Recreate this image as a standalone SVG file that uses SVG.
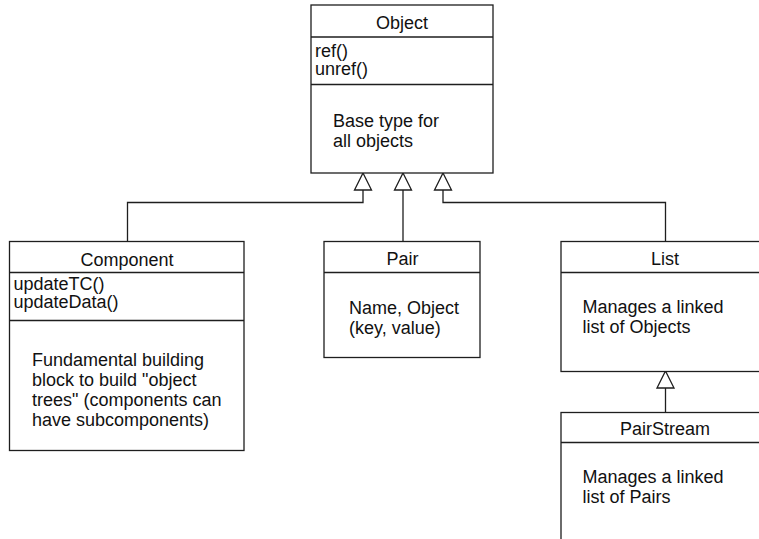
<svg xmlns="http://www.w3.org/2000/svg" width="759" height="539" viewBox="0 0 759 539">
  <style>
    .box { fill: #ffffff; stroke: #1e1e1e; stroke-width: 1.3; }
    .sep { stroke: #1e1e1e; stroke-width: 1.3; fill: none; }
    .edge { stroke: #1e1e1e; stroke-width: 1.3; fill: none; }
    .head { fill: #ffffff; stroke: #1e1e1e; stroke-width: 1.3; }
    text { font-family: "Liberation Sans", Arial, sans-serif; font-size: 18px; fill: #111111; }
    .title { text-anchor: middle; }
  </style>
  <defs>
    <!-- hollow generalization triangle, apex at the origin pointing up -->
    <polygon id="gen" points="0,0 8.5,17 -8.5,17"/>
  </defs>

  <rect width="759" height="539" fill="#ffffff"/>

  <!-- generalization connectors -->
  <g id="connectors">
    <polyline class="edge" points="127.5,241.5 127.5,202.5 363,202.5 363,190"/>
    <line class="edge" x1="403" y1="241.5" x2="403" y2="190"/>
    <polyline class="edge" points="665.5,241.5 665.5,202.5 443,202.5 443,190"/>
    <line class="edge" x1="665.5" y1="412" x2="665.5" y2="388"/>
    <use href="#gen" class="head" x="363" y="173"/>
    <use href="#gen" class="head" x="403" y="173"/>
    <use href="#gen" class="head" x="443" y="173"/>
    <use href="#gen" class="head" x="665.5" y="371"/>
  </g>

  <g id="Object">
    <rect class="box" x="311" y="5" width="182" height="168"/>
    <line class="sep" x1="311" y1="37" x2="493" y2="37"/>
    <line class="sep" x1="311" y1="84.5" x2="493" y2="84.5"/>
    <text class="title" x="402" y="29">Object</text>
    <text x="315" y="57">ref()</text>
    <text x="315" y="75">unref()</text>
    <text x="333" y="127">Base type for</text>
    <text x="333" y="147">all objects</text>
  </g>

  <g id="Component">
    <rect class="box" x="9.5" y="241.5" width="234.5" height="209"/>
    <line class="sep" x1="9.5" y1="272.5" x2="244" y2="272.5"/>
    <line class="sep" x1="9.5" y1="320.5" x2="244" y2="320.5"/>
    <text class="title" x="127" y="266">Component</text>
    <text x="13.5" y="290">updateTC()</text>
    <text x="13.5" y="308">updateData()</text>
    <text x="32" y="366">Fundamental building</text>
    <text x="32" y="386">block to build "object</text>
    <text x="32" y="406">trees" (components can</text>
    <text x="32" y="426">have subcomponents)</text>
  </g>

  <g id="Pair">
    <rect class="box" x="324" y="241.5" width="156" height="116"/>
    <line class="sep" x1="324" y1="272.5" x2="480" y2="272.5"/>
    <text class="title" x="402.5" y="265">Pair</text>
    <text x="349" y="314">Name, Object</text>
    <text x="349" y="334">(key, value)</text>
  </g>

  <g id="List">
    <rect class="box" x="561" y="241.5" width="209" height="130"/>
    <line class="sep" x1="561" y1="272.5" x2="770" y2="272.5"/>
    <text class="title" x="665" y="265">List</text>
    <text x="582.5" y="313">Manages a linked</text>
    <text x="582.5" y="333">list of Objects</text>
  </g>

  <g id="PairStream">
    <rect class="box" x="561" y="412.5" width="209" height="140"/>
    <line class="sep" x1="561" y1="442.5" x2="770" y2="442.5"/>
    <text class="title" x="665" y="435">PairStream</text>
    <text x="582.5" y="483">Manages a linked</text>
    <text x="582.5" y="503">list of Pairs</text>
  </g>
</svg>
